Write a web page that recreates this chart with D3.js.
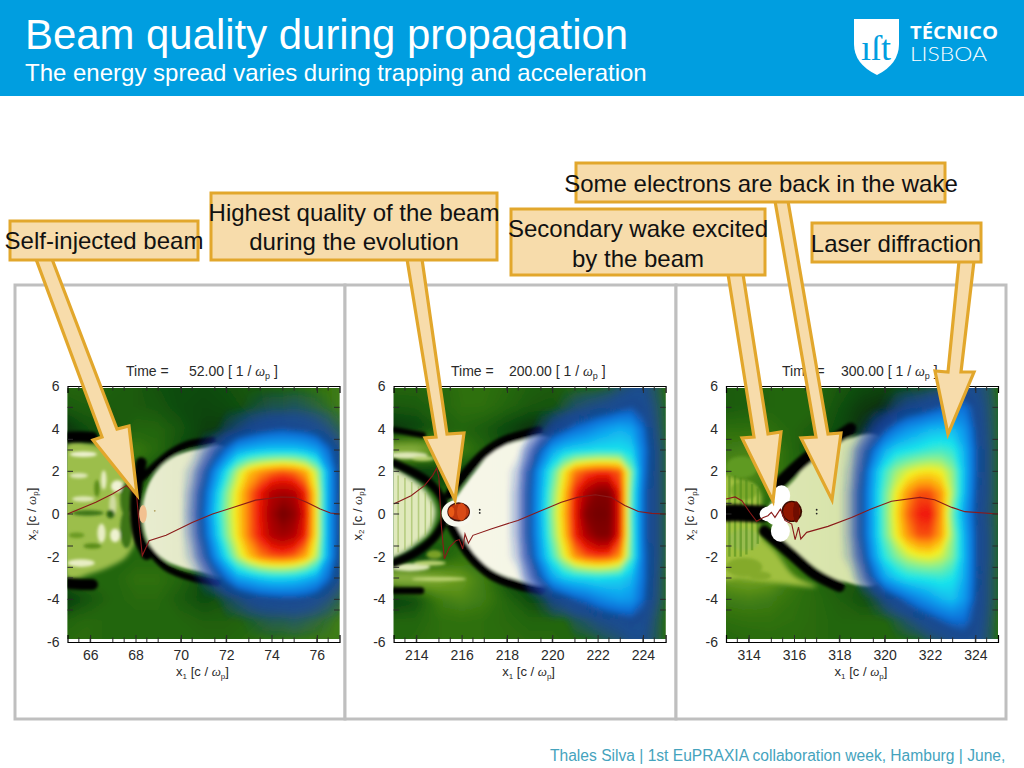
<!DOCTYPE html>
<html><head><meta charset="utf-8">
<script src="https://cdn.jsdelivr.net/npm/d3@7"></script>
<style>html,body{margin:0;padding:0;background:#fff;overflow:hidden}svg{display:block}text{font-family:"Liberation Sans",Arial,sans-serif}</style>
</head><body><svg id="c" width="1024" height="768"></svg>
<script>
// ---------- DATA ----------
const titleText="Beam quality during propagation";
const subtitleText="The energy spread varies during trapping and acceleration";
const footerText="Thales Silva | 1st EuPRAXIA collaboration week, Hamburg | June,";
const panelTimes=["52.00","200.00","300.00"];
const timeLabelX=[126,451,782];
const timeValueX=[189,509,841];
const panelXStart=[65,213,313];
const yTickValues=[-6,-4,-2,0,2,4,6];
const yMinorTicks=[5,3.5,3,2,.5,0,-1.5,-2.5,-3,-4,-4.5];
const xMinorOffsets=[.5,1,2,2.5,3.5,4,5,5.5,6.5,7,8,8.5,9.5,10,11,11.5];
const xLongTopOffsets=[1,5,7,11];

// background plasma density, rows y=6..-6, cols every 1 unit
const plasma1=[
[3,3,2.8,2.6,2.2,2,2,2.2,2.4,2.6,3,3.5,4],
[2.6,2.8,2.6,2.6,2.4,2,1.8,2,2.3,2.6,3,3.5,4],
[1.2,2.2,2.4,3,3,2.4,1.6,1.5,2,2.5,3,3.5,3.8],
[1.5,2.5,3,3.8,3.2,2,1.5,2,2.5,3,3.2,3.5,3.8],
[3,3,3,3,2,2,2,2.5,3,3,3.2,3.5,3.8],
[3,3,3,3,3,3,3,3,3,3,3.2,3.5,3.8],
[3,3,3,3,3,3,3,3,3,3,3.2,3.5,3.8],
[3,3,3,3,3,3,3,3,3,3,3.2,3.5,3.8],
[3,3,3,3,3,3,3,3,3,3,3.2,3.5,3.8],
[3,3,3,3.5,3.5,3,2,2.5,3,3,3.2,3.5,3.8],
[1.4,2.4,3,3.2,3.2,2.6,2,2.4,2.8,3,3.4,3.6,3.8],
[3,3.2,3,3,3,3,2.8,2.8,3,3.2,3.5,3.7,4],
[3.2,3.2,3,3,3,3,3,3,3.2,3.4,3.6,3.8,4]];
const plasma2=[
[3,3,3,3.5,3.5,3.2,2.8,2.6,3,3,3,3,3.4],
[2.5,2.6,3,3.4,3.4,3,2.5,2.4,2.8,3,3,3,3.4],
[1.2,1.6,2.6,3,2.6,1.8,1,1.4,2.4,3,3,3,3.4],
[6,6,5,4,3,2,2,2.5,3,3,3,3,3.4],
[1.5,1,1.5,2,2,2,2,2.5,3,3,3,3,3.4],
[3,3,3,3,3,3,3,3,3,3,3,3,3.4],
[3,3,3,3,3,3,3,3,3,3,3,3,3.4],
[3,3,3,3,3,3,3,3,3,3,3,3,3.4],
[1.5,1,2.5,3.5,3.5,2,2,2.5,3,3,3,3,3.4],
[6,6,5.5,5,4,2,2,2.5,3,3,3,3,3.4],
[1.5,2,4,4.4,4,3,2,2,3,3,3,3,3.4],
[3,3,3.4,3.5,3.4,3.2,3,3,3,3,3,3,3.4],
[3,3.2,3.4,3.5,3.4,3.3,3.2,3.2,3,3,3,3,3.4]];
const plasma3=[
[2.6,2.8,3,3,3,2.5,2,1.8,2.2,2.6,2.8,3,3.4],
[2.6,2.8,3,3,3,2.2,1.4,1,1.8,2.5,2.8,3,3.4],
[3.4,3.4,3.4,3,2.6,2,1,.6,1.6,2.5,2.8,3,3.4],
[4,4.2,4,3,2,1.5,1.5,2,2.5,3,3,3,3.4],
[4.5,4.5,4,3,3,3,3,3,3,3,3,3,3.4],
[4,4,3.5,3,3,3,3,3,3,3,3,3,3.4],
[3,3,3,3,3,3,3,3,3,3,3,3,3.4],
[4,4,3.5,3,3,3,3,3,3,3,3,3,3.4],
[5,5,4.5,3.5,3,3,3,3,3,3,3,3,3.4],
[5,5.2,5,4,3,2.5,2.5,3,3,3,3,3,3.4],
[4,4.2,4,3.5,3.2,2.8,2.2,2.4,3,3,3,3,3.4],
[3.4,3.5,3.5,3.4,3.2,3,3,3,3,3,3,3,3.4],
[3,3.2,3.3,3.3,3.2,3,3,3,3,3,3,3,3.4]];

// laser intensity, rows y=6..-6, cols every .5 unit over the last 7 units
const laser1=[
[0,0,0,0,0,0,0,0,0,0,0,0,0,0,0],
[0,0,0,0,0,0,.1,.2,.3,.3,.4,.3,.2,.1,0],
[0,0,0,0,.3,.6,1,1.3,1.5,1.6,1.5,1.4,1.1,.7,.3],
[0,0,.3,1,2,3,3.3,3.5,3.6,3.6,3.6,3.4,3,2,1],
[0,.2,1,2.5,4,5.5,6.5,7,7.3,7.5,7.3,6.8,5.5,3,1.2],
[0,.4,1.6,3.3,5,6.2,7.3,8.1,8.9,9.1,8.9,8,6,3,1.3],
[0,.5,1.8,3.6,5.2,6.3,7.3,8.2,9.2,10,9.5,8.2,6,3,1.3],
[0,.4,1.6,3.3,5,6.2,7.3,8.1,8.9,9.2,8.9,8,6,3,1.3],
[0,.2,1,2.5,4,5.5,6.5,7.2,7.5,7.6,7.4,6.8,5.5,3,1.2],
[0,0,.3,1,2,3,3.3,3.6,3.8,3.8,3.7,3.4,3,2,1],
[0,0,0,0,.3,.6,1,1.3,1.4,1.5,1.5,1.4,1.1,.7,.3],
[0,0,0,0,0,0,.1,.2,.3,.3,.4,.3,.2,.1,0],
[0,0,0,0,0,0,0,0,0,0,0,0,0,0,0]];
const laser2=[
[0,0,0,0,0,0,0,0,0,.1,.4,.7,.9,.4,0],
[0,0,0,0,0,.2,.5,.7,.9,1.1,1.4,1.6,1.3,.6,.1],
[0,0,0,.3,1,1.5,2,2.3,2.7,3,3.2,3,2,.8,.1],
[0,0,.6,1.8,3,3.6,3.8,3.9,4,4,4,3.8,2.3,1,.2],
[0,.2,1.3,3,4.5,6,7.2,7.6,7.8,7.8,7.5,5,2.2,1,.2],
[0,.3,1.5,3.2,5,6.4,8,9,9.7,9.7,8,4.6,2,1,.2],
[0,.3,1.5,3.3,5.2,6.6,8.1,9.7,10,9.9,8.1,4.5,2,1,.2],
[0,.3,1.5,3.2,5,6.4,8,9,9.7,9.7,8,4.6,2,1,.2],
[0,.2,1.2,2.9,4.4,5.8,7,7.5,7.7,7.6,7,4.6,2.1,1,.2],
[0,0,.6,1.7,3,3.6,3.8,3.9,4,3.9,3.8,3.4,2.1,.9,.1],
[0,0,0,.2,.8,1.2,1.7,2,2.4,2.7,2.9,2.8,1.9,.8,.1],
[0,0,0,0,0,0,.3,.5,.8,1,1.2,1.4,1.2,.5,0],
[0,0,0,0,0,0,0,0,.1,.3,.5,.8,.9,.4,0]];
const laser3=[
[0,0,0,0,0,0,0,0,.1,.2,.4,.7,.9,.5,0],
[0,0,0,0,.1,.5,.9,1.1,1.4,1.7,2,2.1,1.4,.6,.1],
[0,0,.1,.7,1.5,2.2,2.7,3,3.3,3.4,3.4,2.8,1.6,.7,.1],
[0,.1,.8,2,3.2,3.8,4,4.2,4.4,4.5,4.3,3.3,1.8,.8,.1],
[0,.2,1.2,3,4.4,5.3,5.8,6.1,6.2,6,5.2,3.5,1.8,.8,.1],
[0,.3,1.5,3.2,4.8,6,7,7.6,7.6,7,5.4,3.4,1.7,.8,.1],
[0,.3,1.5,3.2,4.9,6.2,7.4,8,8.1,7,4.8,3,1.6,.7,.1],
[0,.3,1.5,3.2,4.8,6,7,7.6,7.6,6.9,5.2,3.3,1.7,.8,.1],
[0,.2,1.1,2.8,4.2,5,5.6,5.9,6,5.7,5,3.4,1.7,.8,.1],
[0,0,.5,1.7,3,3.6,4,4.1,4.2,4.3,4.1,3.2,1.7,.7,.1],
[0,0,0,.2,.8,1.4,2,2.5,2.9,3.3,3.5,2.9,1.6,.7,.1],
[0,0,0,0,0,.2,.5,.9,1.3,1.7,2,2,1.4,.6,0],
[0,0,0,0,0,0,0,0,.3,.5,.8,1.1,1.1,.5,0]];

// Field lineouts [x1, x2]
const field1=[[65,0],[66.25,.55],[67,.95],[67.6,1.33],[68.05,.86],[68.17,-.6],[68.3,-1.95],[68.6,-1.25],[69.35,-1],[70.5,-.4],[71.4,0],[72.3,.3],[73.3,.65],[74.4,.8],[75,.78],[75.55,.55],[76.15,.23],[76.6,.05],[77,0]];
const field2=[[213,.47],[213.77,.86],[214.36,1.33],[214.72,1.8],[214.9,2.15],[215,1.7],[215.1,-.47],[215.24,-2.1],[215.46,-1.56],[215.75,-1.25],[215.9,-1.2],[216.05,-1.64],[216.15,-.94],[216.3,-1.37],[216.5,-1],[217.3,-.7],[218.48,-.3],[219.5,.15],[220.4,.55],[221.1,.78],[221.9,.9],[222.6,.78],[223.2,.4],[223.8,.12],[224.4,.03],[225,0]];
const field3=[[313,.7],[313.4,.8],[313.7,.62],[314.05,.08],[314.35,-.34],[314.65,-.16],[314.85,-.08],[315,.08],[315.16,-.16],[315.4,.23],[315.6,-.3],[315.9,-.47],[316.05,-1.2],[316.2,-.62],[316.3,-1.17],[316.56,-.86],[317.5,-.58],[318.54,-.16],[319.4,.23],[320.3,.6],[321.56,.78],[322.2,.67],[322.96,.31],[323.54,.11],[325,0]];

// Bubble outlines (cream cavity)
const bubble1=[[68.3,0],[68.5,1.2],[69,2.1],[69.8,2.75],[70.8,3.05],[72,3.1],[72,-2.85],[70.8,-2.7],[69.35,-2.2],[68.6,-1.4]];
const bubble2=[[215.3,.1],[215.9,1],[216.6,2],[217.4,2.95],[218.6,3.45],[220,3.5],[220,-3.2],[218.5,-3.1],[217.3,-2.6],[216.4,-1.8],[215.7,-.9]];
const bubble3=[[314.9,.3],[316,1.6],[317,2.9],[318,3.4],[319.8,3.6],[319.8,-3.2],[318,-3.1],[317,-2.55],[316,-1.7],[315.2,-.8]];
// Rear cavity outlines
const back1=[[65,3.3],[66,3.3],[67,3],[67.7,2.4],[68,1.6],[68,0],[68,-1.2],[67.6,-2],[67,-2.4],[66,-2.8],[65,-3]];
const back2=[[212.8,2.15],[213.6,1.8],[214.4,1.1],[214.85,.2],[214.6,-.8],[214,-1.4],[213.4,-1.85],[212.8,-2.05]];
const back3=[[312.8,1.8],[313.6,1.6],[314.5,1],[314.5,-.9],[315.2,-1.8],[316,-2.9],[317,-3.4],[315,-3.2],[313.6,-3],[312.8,-3]];
// Black sheath curves
const sheath1=[
 {w:7,p:[[68.3,1.7],[68.9,2.3],[69.6,2.9],[70.4,3.3],[71.4,3.45]]},
 {w:7,p:[[68.5,-1.55],[69.35,-2.5],[70.5,-3],[71.6,-3.2]]},
 {w:11,p:[[68.25,2.4],[68.05,1.2],[68,0],[68.15,-1.1],[68.5,-1.9]]},
 {w:11,p:[[65,3.6],[65.6,3.62],[66.1,3.6]]},
 {w:11,p:[[65,-3.25],[65.6,-3.3],[66.1,-3.3]]}];
const sheath2=[
 {w:9,p:[[215.45,.9],[216,1.7],[217,2.85],[217.9,3.45],[219.4,3.9]]},
 {w:9,p:[[215.55,-.6],[216.4,-2],[217.3,-2.85],[218.5,-3.35],[219.5,-3.55]]},
 {w:8,p:[[213,2.4],[214.5,1.55],[215.1,.8],[215.3,.2]]},
 {w:8,p:[[213,-2.3],[214,-1.8],[214.8,-1.1],[215.3,-.2]]},
 {w:6,p:[[213,3.95],[213.8,3.8],[214.3,3.7]]},
 {w:7,p:[[213,-3.6],[213.7,-3.6],[214.2,-3.6]]}];
const sheath3=[
 {w:12,p:[[315.16,1.25],[316.6,2.65],[317.66,3.4],[318.5,4]]},
 {w:11,p:[[314.7,-.8],[315.9,-1.9],[316.9,-2.8],[318,-3.4]]},
 {w:17,p:[[313,.05],[313.7,.05],[314.6,0]]}];
// Small streaks [x,y,rx,ry,colour]
const streaks1=[[65.7,2.8,.6,.13,"#eef2d0"],[66.6,1.6,.12,.45,"#e8eec4"],[67.2,1.3,.28,.28,"#f0f2d4"],[65.5,1.8,.4,.12,"#dfe8b8"],[65.7,.7,.5,.13,"#dfe8b8"],[66.5,-.9,.18,.45,"#e8eec4"],[67.1,-1,.22,.32,"#eef2d0"],[65.6,-2.3,.6,.18,"#e8eec4"],[67,.4,.16,.55,"#d0dca0"],[65.9,.05,.7,.13,"#3c7414"],[66.9,0,.18,.2,"#2a6010"],[67.6,.7,.28,.8,"#3c7414"],[67.6,-.7,.28,.9,"#3c7414"],[66.3,1.2,.12,.4,"#5a8c18"],[66.1,-1.5,.4,.13,"#5a8c18"],[65.4,-1,.35,.13,"#6a9a20"]];
const streaks2=[[213.6,2.75,.9,.16,"#dfe8b8"],[214.3,2.6,.5,.12,"#b8d070"],[213.7,-2.5,.9,.18,"#dfe8b8"],[214.6,-2.3,.7,.12,"#b8d070"],[215,-3.05,1.2,.1,"#b8d070"],[214.8,-1.9,.35,.2,"#7aa028"]];
const streaks3=[[313.7,2.2,.7,.5,"#5f9a22"],[313.8,-2.5,.8,.45,"#84aa2c"],[314.5,-2.9,.5,.2,"#84aa2c"],[313.8,-1.2,.7,.5,"#98bc50"],[313.8,1.1,.6,.45,"#7ca82c"]];
// [x, top, bottom]
const stripes2=[[213.2,1.8,-1.8],[213.5,1.7,-1.7],[213.8,1.5,-1.5],[214.1,1.3,-1.3],[214.4,1,-1],[214.65,.6,-.6]];
const stripes3=[[313.15,1.8,-2],[313.4,1.8,-2],[313.65,1.7,-2],[313.9,1.6,-1.9],[314.15,1.4,-1.7],[314.4,1.2,-1.4]];
// Beam blobs [x,y,rx,ry,colour]
const beam1=[[68.33,0,.17,.42,"#f2c090"]];
const beam2=[[215.8,.03,.68,.62,"#f8f8ee"],[215.87,.1,.5,.45,"#4a1408"],[215.87,.1,.46,.38,"#c03810"],[216,.1,.2,.42,"#d84a14"],[215.55,.1,.13,.24,"#e85a14"]];
const beam3=[[315.45,.85,.38,.5,"#ffffff"],[315.4,-.8,.42,.5,"#ffffff"],[314.9,0,.42,.35,"#ffffff"],[315.3,0,.6,.55,"#ffffff"],[315.9,.12,.46,.5,"#3a0a06"],[315.9,.12,.38,.44,"#901606"],[316.1,.1,.14,.5,"#701006"]];
const dots1=[[68.85,.15]];
const dots2=[[216.8,.2],[216.8,.05]];
const dots3=[[317,.2],[317,.02]];

// Callouts
const calloutRects=[[10,221,188,39],[211,193,286,67],[511,209,254,66],[576,163,369,39],[812,223,169,39]];
const calloutLines=[
 {x:104,y:[249],t:["Self-injected beam"]},
 {x:354,y:[221,250],t:["Highest quality of the beam","during the evolution"]},
 {x:638,y:[237,267],t:["Secondary wake excited","by the beam"]},
 {x:761,y:[192],t:["Some electrons are back in the wake"]},
 {x:896,y:[252],t:["Laser diffraction"]}];
const arrowShapes=[
 [[36,259],[52,259],[117,429],[129,426],[137,495],[93,440],[102,437]],
 [[407,259],[422,259],[447,434],[464,433],[455,500],[425,438],[436,437]],
 [[728,274],[743,274],[768,434],[781,432],[773,501],[742,438],[754,437]],
 [[775,201],[788,201],[828,434],[841,433],[832,500],[801,438],[816,437]],
 [[959,261],[974,261],[961,372],[974,372],[948,434],[935,371],[948,372]]];
const frames=[[15,285,330,434],[345,285,331,434],[676,285,330,434]];

// ---------- DRAW ----------
const svg=d3.select("#c");
const defs=svg.append("defs");
const blur=(id,s)=>defs.append("filter").attr("id",id).attr("filterUnits","userSpaceOnUse").attr("x",0).attr("y",300).attr("width",1024).attr("height",400).append("feGaussianBlur").attr("stdDeviation",s);
blur("b3",4);blur("b2",2.6);blur("b1",1.5);blur("b0",.7);

svg.append("rect").attr("width",1024).attr("height",96).attr("fill","#009ee0");
svg.append("text").attr("x",25).attr("y",49).attr("font-size",41.9).attr("fill","#fff").text(titleText);
svg.append("text").attr("x",25).attr("y",81).attr("font-size",24).attr("fill","#fff").text(subtitleText);
// logo
svg.append("path").attr("fill","#fff").attr("d",d3.line()([[854,19],[899,19],[899,44]])+"Q899,64 877,75Q854,64 854,44Z");
svg.append("text").attr("x",876).attr("y",60).attr("text-anchor","middle").attr("font-size",36).attr("fill","#009ee0").style("font-family","Liberation Serif").text("ıſt");
svg.append("text").attr("x",910).attr("y",38.5).attr("font-size",18).attr("font-weight",700).attr("fill","#fff").attr("textLength",88).attr("lengthAdjust","spacingAndGlyphs").style("font-family","Open Sans").text("TÉCNICO");
svg.append("text").attr("x",910).attr("y",61).attr("font-size",19).attr("fill","#fff").attr("textLength",77).attr("lengthAdjust","spacingAndGlyphs").style("font-family","Lato").attr("font-weight",300).text("LISBOA");

svg.selectAll("rect.fr").data(frames).join("rect").attr("class","fr")
 .attr("x",d=>d[0]).attr("y",d=>d[1]).attr("width",d=>d[2]).attr("height",d=>d[3])
 .attr("fill","#fff").attr("stroke","#bfbfbf").attr("stroke-width",3);

const plasmaColor=d3.scaleLinear().domain([0,1,2,3,4,5,6,7,8,9])
 .range(["#000000","#07300a","#0f4c10","#246610","#3f7d12","#6f9e20","#a8c860","#e6ecc6","#f7f8ec","#ffffff"]);
const laserColor=d3.scaleLinear().domain([0,1,1.5,2,3,4,5,6,7,8,9,10])
 .range(["#2c44c0","#1c4aa8","#14509c","#1070d8","#10a4f0","#18e4ec","#80f098","#f6f020","#ff9408","#f01808","#a80000","#700000"]).clamp(true);
const laserLevels=d3.range(.03,1.5,.03).concat(d3.range(1.5,10.01,.1));

const panels=[
 {plasma:plasma1,laser:laser1,field:field1,bubble:bubble1,back:back1,backFill:"#9cbe4c",bubbleFill:["#e8ecd0","#dfe6bf"],sheath:sheath1,streaks:streaks1,stripes:[],beam:beam1,dots:dots1,left:67.5},
 {plasma:plasma2,laser:laser2,field:field2,bubble:bubble2,back:back2,backFill:"#e0e9bc",bubbleFill:["#f6f6e8","#f4f5e4"],sheath:sheath2,streaks:streaks2,stripes:stripes2,beam:beam2,dots:dots2,left:393.6},
 {plasma:plasma3,laser:laser3,field:field3,bubble:bubble3,back:back3,backFill:"#a0c040",bubbleFill:["#dde6b4","#d4e2a4"],sheath:sheath3,streaks:streaks3,stripes:stripes3,beam:beam3,dots:dots3,left:726}];

panels.forEach((P,pi)=>{
 const x0=panelXStart[pi], W=272, imgTop=388, imgBot=639;
 const xs=d3.scaleLinear().domain([x0,x0+12]).range([P.left,P.left+W]);
 const ys=d3.scaleLinear().domain([-6,6]).range([642,386]);
 const g=svg.append("g");
 const cid="clip"+pi;
 defs.append("clipPath").attr("id",cid).append("rect").attr("x",P.left).attr("y",imgTop).attr("width",W).attr("height",imgBot-imgTop);
 const img=g.append("g").attr("clip-path",`url(#${cid})`);
 img.append("rect").attr("x",P.left).attr("y",imgTop).attr("width",W).attr("height",imgBot-imgTop).attr("fill",plasmaColor(3));

 const layer=(parent,rows,xa,dx,th,col,op)=>{
  const ny=rows.length,nx=rows[0].length;
  const path=d3.geoPath(d3.geoTransform({point(a,b){this.stream.point(xs(xa+(a-.5)*dx),ys(6-(b-.5)));}}));
  parent.selectAll("path").data(d3.contours().size([nx,ny]).thresholds(th)(rows.flat())).join("path")
   .attr("d",path).attr("fill",d=>col(d.value)).attr("fill-opacity",d=>op(d.value));
 };
 layer(img.append("g").attr("filter","url(#b3)"),P.plasma,x0,1,d3.range(.5,9,.1),plasmaColor,()=>1);

 const closed=d3.line().x(d=>xs(d[0])).y(d=>ys(d[1])).curve(d3.curveCatmullRomClosed);
 const open=d3.line().x(d=>xs(d[0])).y(d=>ys(d[1])).curve(d3.curveCatmullRom);
 const gB=img.append("g").attr("filter","url(#b2)");
 gB.append("path").attr("d",closed(P.back)).attr("fill",P.backFill);
 const gS=img.append("g").attr("filter","url(#b1)");
 gS.selectAll("ellipse").data(P.streaks).join("ellipse")
  .attr("cx",d=>xs(d[0])).attr("cy",d=>ys(d[1])).attr("rx",d=>xs(x0+d[2])-xs(x0)).attr("ry",d=>ys(0)-ys(d[3])).attr("fill",d=>d[4]);
 const gT=img.append("g").attr("filter","url(#b0)");
 gT.selectAll("line").data(P.stripes).join("line")
  .attr("x1",d=>xs(d[0])).attr("x2",d=>xs(d[0])).attr("y1",d=>ys(d[1])).attr("y2",d=>ys(d[2]))
  .attr("stroke",pi==1?"#94b450":"#4c8a18").attr("stroke-width",pi==1?1.6:2.4).attr("stroke-opacity",.55);

 const gid="bub"+pi;
 const gr=defs.append("linearGradient").attr("id",gid);
 gr.append("stop").attr("offset",0).attr("stop-color",P.bubbleFill[0]);
 gr.append("stop").attr("offset",1).attr("stop-color",P.bubbleFill[1]);
 const gF=img.append("g").attr("filter","url(#b1)");
 gF.append("path").attr("d",closed(P.bubble)).attr("fill",`url(#${gid})`);
 gF.selectAll("path.sh").data(P.sheath).join("path").attr("class","sh")
  .attr("d",d=>open(d.p)).attr("fill","none").attr("stroke","#020502").attr("stroke-width",d=>d.w).attr("stroke-linecap","round");

 layer(img.append("g").attr("filter","url(#b2)"),P.laser,x0+5,.5,laserLevels,laserColor,v=>v<1.5?.05:1);

 const bm=img.append("g").attr("filter","url(#b0)");
 bm.selectAll("ellipse").data(P.beam).join("ellipse")
  .attr("cx",d=>xs(d[0])).attr("cy",d=>ys(d[1])).attr("rx",d=>xs(x0+d[2])-xs(x0)).attr("ry",d=>ys(0)-ys(d[3])).attr("fill",d=>d[4]);
 img.selectAll("circle").data(P.dots).join("circle").attr("cx",d=>xs(d[0])).attr("cy",d=>ys(d[1])).attr("r",.9).attr("fill",pi==0?"#b0a060":"#222");
 img.append("path").attr("d",d3.line().x(d=>xs(d[0])).y(d=>ys(d[1]))(P.field))
  .attr("fill","none").attr("stroke","#8a1a1a").attr("stroke-width",1.1);

 // axes
 const ink="#2a2a2a";
 const axB=g.append("g").attr("transform","translate(0,642)").call(d3.axisBottom(xs).tickValues(d3.range(x0+1,x0+12,2)).tickSize(-7).tickPadding(8).tickFormat(d3.format("d")));
 const axT=g.append("g").attr("transform","translate(0,386)").call(d3.axisTop(xs).tickValues(xLongTopOffsets.map(o=>x0+o)).tickSize(-7).tickFormat(""));
 const axL=g.append("g").attr("transform",`translate(${P.left},0)`).call(d3.axisLeft(ys).tickValues(yTickValues).tickSize(0).tickPadding(8).tickFormat(d=>d3.format("d")(d).replace("−","-")));
 [axB,axT,axL].forEach(a=>{a.selectAll("text").attr("font-size",14).attr("fill",ink).style("font-family","Liberation Sans");a.selectAll("line").attr("stroke",ink);});
 axL.select(".domain").attr("stroke","none");
 [axB,axT].forEach(a=>a.select(".domain").attr("stroke","#000").attr("stroke-width",1.2));
 const tinyX=(yy,dir)=>g.append("g").selectAll("line").data(xMinorOffsets).join("line").attr("x1",d=>xs(x0+d)).attr("x2",d=>xs(x0+d)).attr("y1",yy).attr("y2",yy+dir*4.5).attr("stroke",ink);
 tinyX(642,-1);tinyX(386,1);
 [P.left,P.left+W].forEach((xx,i)=>g.append("g").selectAll("line").data(yMinorTicks).join("line").attr("y1",d=>ys(d)).attr("y2",d=>ys(d)).attr("x1",xx).attr("x2",xx+(i?-5.5:5.5)).attr("stroke",ink));

 // titles
 const addLabel=sel=>{
  sel.append("tspan").text("[c / ");
  sel.append("tspan").attr("font-style","italic").style("font-family","Liberation Serif").text("ω");
  sel.append("tspan").attr("dy",2.5).attr("font-size",8).text("p");
  sel.append("tspan").attr("dy",-2.5).text("]");
 };
 const xl=g.append("text").attr("x",P.left+W/2-1).attr("y",676).attr("text-anchor","middle").attr("font-size",13).attr("fill",ink);
 xl.append("tspan").text("x");xl.append("tspan").attr("dy",2.5).attr("font-size",8).text("1");xl.append("tspan").attr("dy",-2.5).text(" ");
 addLabel(xl);
 const yl=g.append("text").attr("transform",`translate(${P.left-32},514) rotate(-90)`).attr("text-anchor","middle").attr("font-size",13).attr("fill",ink);
 yl.append("tspan").text("x");yl.append("tspan").attr("dy",2.5).attr("font-size",8).text("2");yl.append("tspan").attr("dy",-2.5).text(" ");
 addLabel(yl);
 g.append("text").attr("x",timeLabelX[pi]).attr("y",376).attr("font-size",14).attr("fill",ink).text("Time =");
 const tl=g.append("text").attr("x",timeValueX[pi]).attr("y",376).attr("font-size",14).attr("fill",ink);
 tl.append("tspan").text(panelTimes[pi]+" [ 1 / ");
 tl.append("tspan").attr("font-style","italic").style("font-family","Liberation Serif").text("ω");
 tl.append("tspan").attr("dy",2.5).attr("font-size",9).text("p");
 tl.append("tspan").attr("dy",-2.5).text(" ]");
});

// arrows and callouts
const poly=d3.line().curve(d3.curveLinearClosed);
svg.selectAll("path.ar").data(arrowShapes).join("path").attr("class","ar").attr("d",d=>poly(d))
 .attr("fill","#f7dcab").attr("stroke","#e2a72c").attr("stroke-width",3.2).attr("stroke-linejoin","miter");
svg.selectAll("rect.co").data(calloutRects).join("rect").attr("class","co")
 .attr("x",d=>d[0]).attr("y",d=>d[1]).attr("width",d=>d[2]).attr("height",d=>d[3])
 .attr("fill","#f7dcab").attr("stroke","#e2a72c").attr("stroke-width",3);
calloutLines.forEach(c=>c.t.forEach((s,i)=>svg.append("text").attr("x",c.x).attr("y",c.y[i]).attr("text-anchor","middle").attr("font-size",24).attr("fill","#111").text(s)));

svg.append("text").attr("x",550).attr("y",761).attr("font-size",15.6).attr("fill","#45a3bd").text(footerText);
</script></body></html>
